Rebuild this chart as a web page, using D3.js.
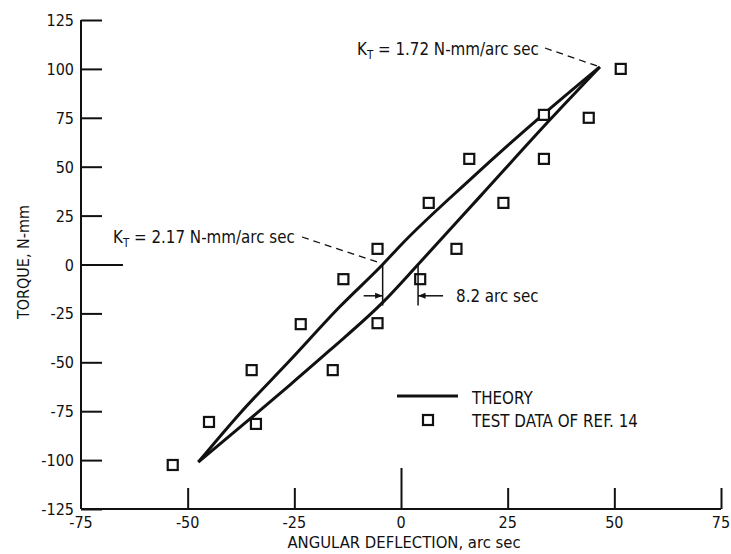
<!DOCTYPE html>
<html>
<head>
<meta charset="utf-8">
<script src="https://cdn.jsdelivr.net/npm/d3@7/dist/d3.min.js"></script>
<style>
  html, body { margin: 0; padding: 0; background: #fff; }
  svg { display: block; }
  text { font-family: "Liberation Sans Narrow", "DejaVu Sans Condensed", "Arial Narrow", sans-serif; fill: #111; }
</style>
</head>
<body>
<svg id="chart" width="731" height="554"></svg>
<script>
// ---- data ----
const xTicks = [-75, -50, -25, 0, 25, 50, 75];
const yTicks = [125, 100, 75, 50, 25, 0, -25, -50, -75, -100, -125];

// theory hysteresis loop, upper (left) branch
const theoryUpperX = [-47.5, -37.7, -26, -14.3, -4.3, 0, 16, 33.5, 46.6];
const theoryUpperY = [-101, -76, -49, -21.5, 0, 10, 43, 77, 101];
// theory hysteresis loop, lower (right) branch
const theoryLowerX = [-47.5, -33.8, -26, -16.6, -4.1, 4, 18.5, 34.9, 46.6];
const theoryLowerY = [-101, -76, -61.5, -43.7, -19, 0, 34.7, 74, 101];

// test data of ref. 14
const testX = [51.5, 44, 33.5, 33.5, 16, 6.5, 24, 13, -5.5, -13.5, 4.5, -5.5, -23.5, -35, -16, -45, -34, -53.5];
const testY = [100, 75, 76.5, 54, 54, 31.5, 31.5, 8, 8, -7.5, -7.5, -30, -30.5, -54, -54, -80.5, -81.5, -102.5];

// annotation anchors (data units)
const zeroCrossUpper = -4.3;
const zeroCrossLower = 4.0;
const tipPoint = [46.6, 101];

// ---- drawing ----
const svg = d3.select("#chart");
const x = d3.scaleLinear().domain([-75, 75]).range([81, 721]);
const y = d3.scaleLinear().domain([-125, 125]).range([509, 20]);

const ink = "#111";
const noteSize = 16.8;

// axes lines
svg.append("line").attr("x1", x(-75)).attr("x2", x(-75)).attr("y1", y(125)).attr("y2", y(-125))
  .attr("stroke", ink).attr("stroke-width", 2);
svg.append("line").attr("x1", x(-75)).attr("x2", x(75)).attr("y1", y(-125)).attr("y2", y(-125))
  .attr("stroke", ink).attr("stroke-width", 2);

// y ticks (inward)
const yAxis = d3.axisRight(y).tickValues(yTicks).tickSizeOuter(0).tickFormat("");
const gy = svg.append("g").attr("transform", `translate(${x(-75)},0)`).call(yAxis);
gy.select(".domain").remove();
gy.selectAll(".tick line").attr("stroke", ink).attr("stroke-width", 2)
  .attr("x2", d => d === 0 ? 42 : 21);
svg.append("g").selectAll("text").data(yTicks).join("text")
  .attr("x", x(-75) - 7).attr("y", d => y(d) + 6)
  .attr("text-anchor", "end").attr("font-size", 16).text(d => d);

// x ticks (inward / upward)
const xAxis = d3.axisTop(x).tickValues(xTicks).tickSizeOuter(0).tickFormat("");
const gx = svg.append("g").attr("transform", `translate(0,${y(-125)})`).call(xAxis);
gx.select(".domain").remove();
gx.selectAll(".tick line").attr("stroke", ink).attr("stroke-width", 2)
  .attr("y2", d => d === 0 ? -41 : (d === -75 ? 0 : -21));
svg.append("g").selectAll("text").data(xTicks).join("text")
  .attr("x", d => x(d)).attr("y", y(-125) + 19)
  .attr("text-anchor", "middle").attr("font-size", 16).text(d => d);

// axis titles
svg.append("text").attr("x", 404).attr("y", 548).attr("text-anchor", "middle")
  .attr("font-size", 16.5).text("ANGULAR DEFLECTION, arc sec");
svg.append("text").attr("transform", "translate(29,262) rotate(-90)").attr("text-anchor", "middle")
  .attr("font-size", 16).text("TORQUE, N-mm");

// theory curves
const line = d3.line().x(d => x(d[0])).y(d => y(d[1])).curve(d3.curveMonotoneX);
const upper = theoryUpperX.map((v, i) => [v, theoryUpperY[i]]);
const lower = theoryLowerX.map((v, i) => [v, theoryLowerY[i]]);
[upper, lower].forEach(pts => {
  svg.append("path").attr("d", line(pts)).attr("fill", "none")
    .attr("stroke", ink).attr("stroke-width", 3).attr("stroke-linejoin", "miter");
});

// test data squares
const sq = 10;
svg.append("g").selectAll("rect").data(testX.map((v, i) => [v, testY[i]])).join("rect")
  .attr("x", d => x(d[0]) - sq / 2).attr("y", d => y(d[1]) - sq / 2)
  .attr("width", sq).attr("height", sq).attr("fill", "#fff")
  .attr("stroke", ink).attr("stroke-width", 2.2);

// annotation: K_T = 2.17
const kt1 = svg.append("text").attr("x", 113).attr("y", 243).attr("font-size", noteSize);
kt1.append("tspan").text("K");
kt1.append("tspan").attr("font-size", 11.5).attr("dy", 4).text("T");
kt1.append("tspan").attr("dy", -4).text(" = 2.17 N-mm/arc sec");
svg.append("path")
  .attr("d", d3.line()([[302, 237], [x(zeroCrossUpper) - 1, y(0) - 1]]))
  .attr("stroke", ink).attr("stroke-width", 1.3).attr("stroke-dasharray", "7,5").attr("fill", "none");

// annotation: K_T = 1.72
const kt2 = svg.append("text").attr("x", 357).attr("y", 55).attr("font-size", noteSize);
kt2.append("tspan").text("K");
kt2.append("tspan").attr("font-size", 11.5).attr("dy", 4).text("T");
kt2.append("tspan").attr("dy", -4).text(" = 1.72 N-mm/arc sec");
svg.append("path")
  .attr("d", d3.line()([[545, 48], [x(tipPoint[0]), y(tipPoint[1])]]))
  .attr("stroke", ink).attr("stroke-width", 1.3).attr("stroke-dasharray", "7,5").attr("fill", "none");

// annotation: 8.2 arc sec gap
const gapTop = y(0);
const gapBot = y(-21);
const arrowY = y(-16);
[zeroCrossUpper, zeroCrossLower].forEach(v => {
  svg.append("line").attr("x1", x(v)).attr("x2", x(v)).attr("y1", gapTop).attr("y2", gapBot)
    .attr("stroke", ink).attr("stroke-width", 1.5);
});
svg.append("defs").append("marker").attr("id", "ah").attr("viewBox", "0 0 10 10")
  .attr("refX", 10).attr("refY", 5).attr("markerWidth", 6).attr("markerHeight", 5)
  .attr("orient", "auto-start-reverse").append("path").attr("d", "M0,1 L10,5 L0,9 Z").attr("fill", ink);
svg.append("line").attr("x1", x(zeroCrossUpper) - 19).attr("x2", x(zeroCrossUpper)).attr("y1", arrowY).attr("y2", arrowY)
  .attr("stroke", ink).attr("stroke-width", 1.5).attr("marker-end", "url(#ah)");
svg.append("line").attr("x1", x(zeroCrossLower) + 25).attr("x2", x(zeroCrossLower)).attr("y1", arrowY).attr("y2", arrowY)
  .attr("stroke", ink).attr("stroke-width", 1.5).attr("marker-end", "url(#ah)");
svg.append("text").attr("x", x(zeroCrossLower) + 38).attr("y", arrowY + 6).attr("font-size", noteSize).text("8.2 arc sec");

// legend
svg.append("line").attr("x1", 397).attr("x2", 458).attr("y1", 396).attr("y2", 396)
  .attr("stroke", ink).attr("stroke-width", 3);
svg.append("text").attr("x", 472).attr("y", 404).attr("font-size", noteSize).text("THEORY");
svg.append("rect").attr("x", 428 - sq / 2).attr("y", 420 - sq / 2).attr("width", sq).attr("height", sq)
  .attr("fill", "#fff").attr("stroke", ink).attr("stroke-width", 2.2);
svg.append("text").attr("x", 472).attr("y", 427).attr("font-size", noteSize).text("TEST DATA OF REF. 14");
</script>
</body>
</html>
